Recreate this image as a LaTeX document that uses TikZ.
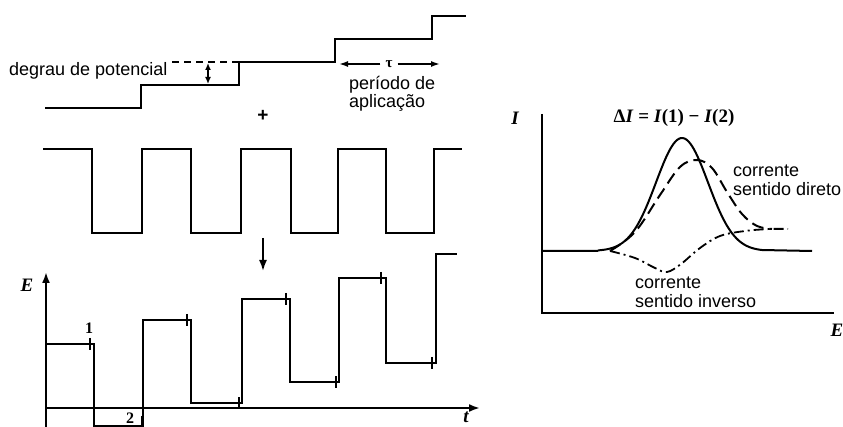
\documentclass[tikz,border=0pt]{standalone}
\usepackage{fontspec}
\setmainfont{Liberation Sans}
\newfontfamily\serifb{Liberation Serif}
\usetikzlibrary{arrows.meta}
\begin{document}
\begin{tikzpicture}[x=1pt,y=-1pt,
  wave/.style={line width=2pt,line join=miter},
  lbl/.style={inner sep=0pt,font=\fontsize{18}{20}\selectfont},
  mlbl/.style={inner sep=0pt,font=\serifb\bfseries\itshape\fontsize{19}{22}\selectfont},
  nlbl/.style={inner sep=0pt,font=\serifb\bfseries\fontsize{16}{18}\selectfont},
  axis/.style={line width=2pt,-{Latex[length=11pt,width=8pt]}},
  tickm/.style={line width=1.6pt}]
\useasboundingbox (0,0) rectangle (843,427);
\fill[white] (0,0) rectangle (843,427);

% ---- staircase
\draw[wave] (45,108) -- (141,108) -- (141,85) -- (239,85) -- (239,62) -- (335,62) -- (335,39) -- (432,39) -- (432,16) -- (466,16);
\draw[line width=1.5pt,dash pattern=on 7pt off 5pt] (172,62) -- (239,62);
\coordinate (dtop) at (208,63);
\coordinate (dbot) at (208,84);
\draw[line width=1.8pt,{Latex[length=7pt,width=6pt]}-{Latex[length=7pt,width=6pt]}] (dtop) -- (dbot);
\node[lbl,anchor=west] (degrau) at (9,71) {degrau de potencial};
\node[inner sep=1pt,font=\serifb\bfseries\fontsize{15}{16}\selectfont] (tau) at (389,64) {τ};
\coordinate (tauL) at (339,64);
\coordinate (tauR) at (440,64);
\draw[line width=1.6pt,-{Latex[length=9pt,width=6pt]}] (tau.west) ++(-4,0) -- (tauL);
\draw[line width=1.6pt,-{Latex[length=9pt,width=6pt]}] (tau.east) ++(4,0) -- (tauR);
\node[lbl,anchor=west] (periodo) at (349,85) {período de};
\node[lbl,anchor=west] (aplic) at (349,103) {aplicação};
\node[inner sep=0pt,font=\bfseries\fontsize{19}{20}\selectfont] (plus) at (263,116) {+};

% ---- square wave
\draw[wave] (43,149) -- (92,149) -- (92,233) -- (142,233) -- (142,149) -- (191,149) -- (191,233) -- (241,233) -- (241,149) -- (291,149) -- (291,233) -- (338,233) -- (338,149) -- (386,149) -- (386,233) -- (434,233) -- (434,149) -- (462,149);

% ---- down arrow
\coordinate (arrA) at (263,238);
\coordinate (arrB) at (263,271);
\draw[line width=1.8pt,-{Latex[length=11pt,width=8pt]}] (arrA) -- (arrB);

% ---- bottom plot axes
\coordinate (O) at (46,408);
\coordinate (Etop) at (46,272);
\coordinate (Ebot) at (46,430);
\coordinate (tend) at (480,408);
\draw[axis] (Ebot) -- (Etop);
\draw[axis] (O) -- (tend);
\node[mlbl] (Elab) at (27,285) {E};
\node[mlbl] (tlab) at (466,417) {t};

% ---- bottom waveform
\draw[wave] (46,344) -- (94,344) -- (94,426) -- (143,426) -- (143,320) -- (191,320) -- (191,403) -- (242,403) -- (242,299) -- (290,299) -- (290,382) -- (339,382) -- (339,278) -- (386,278) -- (386,363) -- (436,363) -- (436,254) -- (457,254);
\foreach \tx/\ty in {90/344,142/422,187/320,239/403,286/299,336/382,381/278,432/363}
  \draw[tickm] (\tx,\ty-6) -- (\tx,\ty+6);
\node[nlbl] (one) at (89,328) {1};
\node[nlbl] (two) at (130,418) {2};

% ---- right plot
\coordinate (IO) at (542,313);
\coordinate (Itop) at (542,114);
\coordinate (Eend) at (834,313);
\draw[line width=2pt] (Itop) -- (IO) -- (Eend);
\node[mlbl] (Ilab) at (515,118) {I};
\node[mlbl] (Elab2) at (837,330) {E};
\node[inner sep=0pt,font=\serifb\bfseries\fontsize{19}{22}\selectfont] (dI) at (674,118) {Δ\textit{I} = \textit{I}(1) − \textit{I}(2)};

\draw[line width=2pt] (542,251) -- (598,251)
  plot[domain=598:762,samples=90] (\x,{251-113*exp(-((\x-682)/26)^2/2)}) -- (812,251);
\draw[line width=2pt,dash pattern=on 12pt off 6pt] plot[smooth,tension=0.6] coordinates {(610,251) (635,232) (660,195) (680,167) (697,160) (712,168) (727,192) (742,214) (757,226) (772,229)};
\draw[line width=1.8pt,dash pattern=on 10pt off 4pt on 2pt off 4pt] plot[smooth,tension=0.6] coordinates {(610,251) (635,258) (655,268) (667,272) (681,264) (700,248) (720,236) (745,231) (770,229) (788,229)};

\node[lbl,anchor=west] (cd1) at (733,171) {corrente};
\node[lbl,anchor=west] (cd2) at (733,189) {sentido direto};
\node[lbl,anchor=west] (ci1) at (635,283) {corrente};
\node[lbl,anchor=west] (ci2) at (635,301) {sentido inverso};
\end{tikzpicture}
\end{document}
